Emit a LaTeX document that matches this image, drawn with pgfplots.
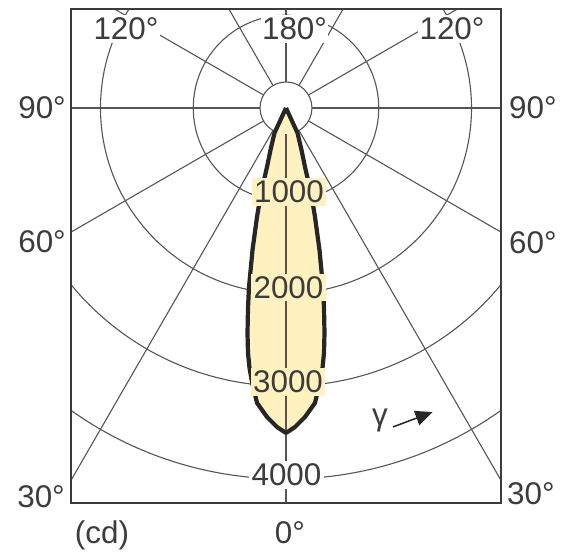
\documentclass[border=0pt]{standalone}
\usepackage{pgfplots}
\pgfplotsset{compat=1.18}
\usepackage{pgfplotstable}
\usepackage{fontspec}
\setmainfont{Liberation Sans}
\usetikzlibrary{arrows.meta}

\definecolor{gridc}{RGB}{85,85,85}
\definecolor{borderc}{RGB}{60,60,60}
\definecolor{curvec}{RGB}{38,38,38}
\definecolor{beam}{RGB}{255,242,192}
\definecolor{txt}{RGB}{60,60,60}

% luminous intensity: gamma (deg), I (cd)
\pgfplotstableread{
g I
24.7 0
24.7 297
20.25 483
17.85 668
16.39 955
14.9 1216
13.27 1573
11.68 1971
10.76 2195
9.71 2461
8.82 2673
7.99 2831
7.07 2977
5.61 3196
3.52 3338
1.62 3441
0 3504
-1.62 3441
-3.52 3338
-5.61 3196
-7.07 2977
-7.99 2831
-8.82 2673
-9.71 2461
-10.76 2195
-11.68 1971
-13.27 1573
-14.9 1216
-16.39 955
-17.85 668
-20.25 483
-24.7 297
-24.7 0
}\lumdata

\begin{document}
\begin{tikzpicture}[
  lbl/.style={font=\fontsize{31.5}{38}\selectfont, text=txt, inner sep=0pt},
  gridline/.style={draw=gridc, line width=1.1bp}]
\begin{axis}[
  scale only axis, width=430bp, height=494bp,
  xmin=-2318, xmax=2318, ymin=-4259, ymax=1067,
  xtick=\empty, ytick=\empty,
  axis line style={draw=borderc, line width=2.8bp},
  axis on top,
  after end axis/.code={
    \node[lbl, anchor=east] at (axis cs:-2372,0) {90°};
    \node[lbl, anchor=east] at (axis cs:-2372,-1445) {60°};
    \node[lbl, anchor=east] at (axis cs:-2383,-4194) {30°};
    \node[lbl, anchor=west] at (axis cs:2404,0) {90°};
    \node[lbl, anchor=west] at (axis cs:2404,-1456) {60°};
    \node[lbl, anchor=west] at (axis cs:2383,-4162) {30°};
    \node[lbl] at (axis cs:43,-4582) {0°};
    \node[lbl] at (axis cs:-1984,-4604) {(cd)};
  }]

% circles 1000 ... 4000 cd
\draw[gridline] (axis cs:0,0) circle[radius=1000];
\draw[gridline] (axis cs:0,0) circle[radius=2000];
\draw[gridline] (axis cs:0,0) circle[radius=3000];
\draw[gridline] (axis cs:0,0) circle[radius=4000];
% centre hole
\fill[white] (axis cs:0,0) circle[radius=280];
\draw[gridline] (axis cs:0,0) circle[radius=280];

\addplot[fill=beam, draw=none] table[x expr={\thisrow{I}*sin(\thisrow{g})}, y expr={-\thisrow{I}*cos(\thisrow{g})}] {\lumdata};

% rays every 30 deg
\pgfplotsinvokeforeach{0,30,...,330}{
  \draw[gridline] (axis cs:{280*sin(#1)},{-280*cos(#1)}) -- (axis cs:{8000*sin(#1)},{-8000*cos(#1)});
}

\addplot[draw=curvec, line width=4.2bp, line join=round, fill=none] table[x expr={\thisrow{I}*sin(\thisrow{g})}, y expr={-\thisrow{I}*cos(\thisrow{g})}] {\lumdata};

\node[lbl, fill=beam, inner xsep=2.5bp, inner ysep=2.5bp] at (axis cs:32,-906) {1000};
\node[lbl, fill=beam, inner xsep=2.5bp, inner ysep=2.5bp] at (axis cs:27,-1933) {2000};
\node[lbl, fill=beam, inner xsep=2.5bp, inner ysep=2.5bp] at (axis cs:22,-2954) {3000};
\node[lbl, fill=white, inner xsep=2.5bp, inner ysep=2.5bp] at (axis cs:5,-3957) {4000};

\node[lbl, fill=white, inner xsep=1.5bp, inner ysep=2.5bp] at (axis cs:92,852) {180°};
\node[lbl, fill=white, inner xsep=1.5bp, inner ysep=2.5bp] at (axis cs:-1725,852) {120°};
\node[lbl, fill=white, inner xsep=1.5bp, inner ysep=2.5bp] at (axis cs:1790,852) {120°};

\node[lbl] at (axis cs:1013,-3364) {γ};
\draw[draw=curvec, line width=1.5bp, -{Triangle[length=17bp,width=15bp]}] (axis cs:1154,-3439) -- (axis cs:1580,-3279);
\end{axis}
\pgfresetboundingbox
\path ([shift={(-71bp,-55bp)}]current axis.south west) rectangle ([shift={(65bp,9bp)}]current axis.north east);
\end{tikzpicture}
\end{document}
